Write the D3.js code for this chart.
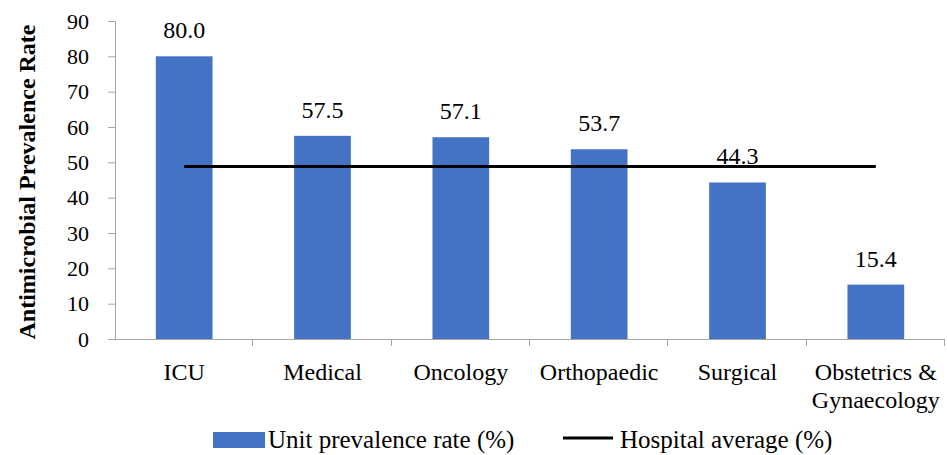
<!DOCTYPE html>
<html>
<head>
<meta charset="utf-8">
<script src="https://cdn.jsdelivr.net/npm/d3@7"></script>
<style>
  body { margin: 0; background: #fff; }
</style>
</head>
<body>
<div id="chart"></div>
<script>
// data
const categories = ['ICU', 'Medical', 'Oncology', 'Orthopaedic', 'Surgical', 'Obstetrics & Gynaecology']
const unitRates = [80.0, 57.5, 57.1, 53.7, 44.3, 15.4]
const hospitalAverage = [48.8, 48.8, 48.8, 48.8, 48.8, 48.8]
const yTicks = [0, 10, 20, 30, 40, 50, 60, 70, 80, 90]
const seriesNames = ['Unit prevalence rate (%)', 'Hospital average (%)']

const width = 947, height = 455
const mLeft = 115, mRight = 945, mTop = 21, mBottom = 339
const barColor = '#4472C4', axisColor = '#A6A6A6'
const serif = '"Liberation Serif", "Times New Roman", serif'

const svg = d3.select('#chart').append('svg')
    .attr('width', width)
    .attr('height', height)

const x = d3.scaleBand().domain(categories).range([mLeft, mRight])
    .paddingInner(0.59).paddingOuter(0.295)
const y = d3.scaleLinear().domain([0, 90]).range([mBottom, mTop])

// y axis
const yAxis = svg.append('g')
    .attr('transform', `translate(${mLeft},0)`)
    .call(d3.axisLeft(y).tickValues(yTicks).tickSize(7).tickPadding(19))
yAxis.selectAll('path, line').attr('stroke', axisColor)
yAxis.select('.domain').attr('d', `M-7,${mTop}.5H0.5V${mBottom}`)
yAxis.selectAll('text')
    .style('font-family', serif)
    .style('font-size', '22px')
    .attr('fill', '#000')

// bars
svg.append('g').selectAll('rect')
    .data(categories)
    .enter()
    .append('rect')
    .attr('x', d => x(d))
    .attr('y', (d, i) => y(unitRates[i]))
    .attr('width', x.bandwidth())
    .attr('height', (d, i) => y(0) - y(unitRates[i]))
    .attr('fill', barColor)

// x axis (band boundaries as ticks)
const xg = svg.append('g')
xg.append('line')
    .attr('x1', mLeft).attr('x2', mRight)
    .attr('y1', mBottom + 0.5).attr('y2', mBottom + 0.5)
    .attr('stroke', axisColor)
const bounds = categories.map(c => x(c) - x.step() * x.paddingInner() / 2)
bounds.push(mRight)
xg.selectAll('.xtick').data(bounds.slice(1)).enter()
    .append('line')
    .attr('x1', d => Math.round(d) - 0.5).attr('x2', d => Math.round(d) - 0.5)
    .attr('y1', mBottom).attr('y2', mBottom + 7)
    .attr('stroke', axisColor)

// category labels (wrap long one)
categories.forEach(c => {
    const cx = x(c) + x.bandwidth() / 2
    const lines = c === 'Obstetrics & Gynaecology' ? ['Obstetrics &', 'Gynaecology'] : [c]
    const t = svg.append('text')
        .attr('x', cx).attr('y', 380)
        .attr('text-anchor', 'middle')
        .style('font-family', serif)
        .style('font-size', '24px')
    lines.forEach((l, i) => {
        t.append('tspan').attr('x', cx).attr('dy', i === 0 ? 0 : 28).text(l)
    })
})

// hospital average line
const line = d3.line()
    .x(d => x(d[0]) + x.bandwidth() / 2)
    .y(d => y(d[1]))
svg.append('path')
    .attr('d', line(categories.map((c, i) => [c, hospitalAverage[i]])))
    .attr('stroke', '#000')
    .attr('stroke-width', 3)
    .attr('fill', 'none')

// value labels
svg.append('g').selectAll('text')
    .data(unitRates)
    .enter()
    .append('text')
    .attr('x', (d, i) => x(categories[i]) + x.bandwidth() / 2)
    .attr('y', d => y(d) - 18)
    .attr('text-anchor', 'middle')
    .style('font-family', serif)
    .style('font-size', '24px')
    .text(d => d.toFixed(1))

// y title
svg.append('text')
    .attr('transform', 'translate(35,182) rotate(-90)')
    .attr('text-anchor', 'middle')
    .style('font-family', serif)
    .style('font-size', '24px')
    .style('font-weight', 'bold')
    .text('Antimicrobial Prevalence Rate')

// legend
const lg = svg.append('g')
lg.append('rect').attr('x', 213).attr('y', 432).attr('width', 52).attr('height', 16).attr('fill', barColor)
lg.append('text').attr('x', 268).attr('y', 448)
    .style('font-family', serif).style('font-size', '25px').text(seriesNames[0])
lg.append('line').attr('x1', 563).attr('x2', 613).attr('y1', 438).attr('y2', 438)
    .attr('stroke', '#000').attr('stroke-width', 3)
lg.append('text').attr('x', 620).attr('y', 448)
    .style('font-family', serif).style('font-size', '25px').text(seriesNames[1])
</script>
</body>
</html>
